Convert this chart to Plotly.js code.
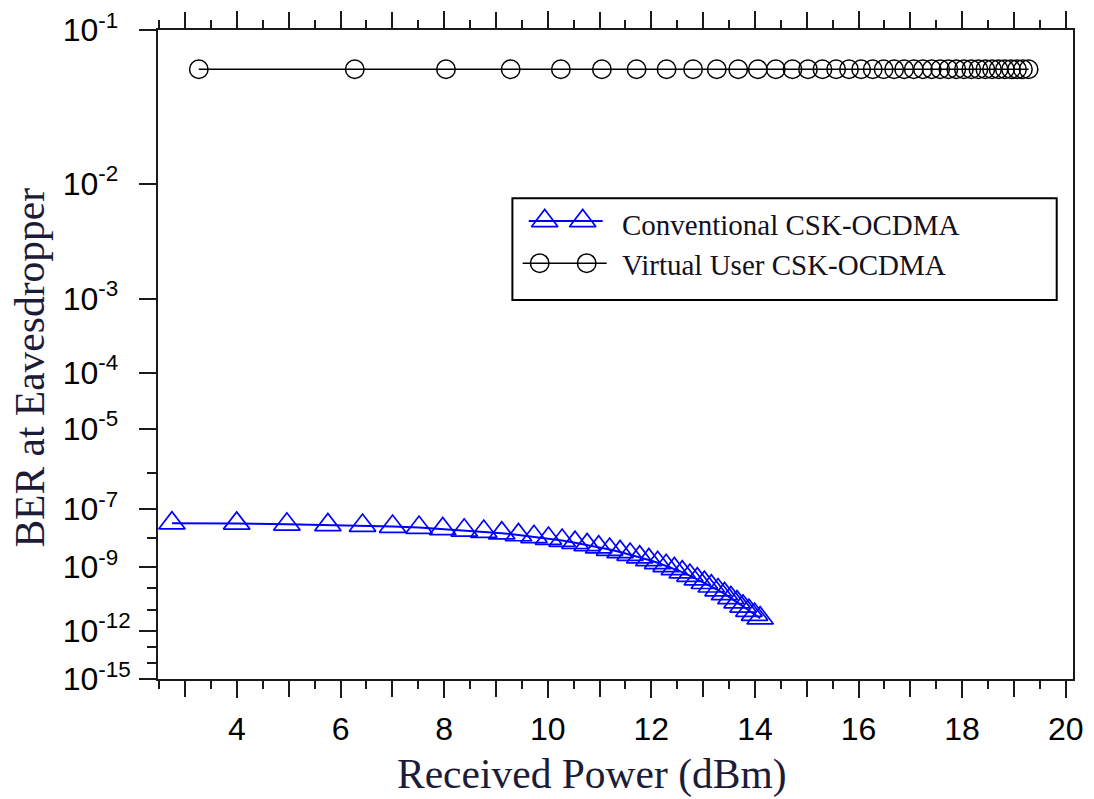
<!DOCTYPE html>
<html>
<head>
<meta charset="utf-8">
<script src="https://cdn.plot.ly/plotly-3.0.1.min.js"></script>
<style>
  html, body { margin: 0; padding: 0; background: #ffffff; }
  #chart { width: 1094px; height: 799px; }
</style>
</head>
<body>
<div id="chart"></div>
<script>
// ---------------- DATA ----------------
// Received power (dBm) and BER at eavesdropper
const xConventional = [2.744, 3.994, 4.963, 5.755, 6.424, 7.004, 7.515, 7.973, 8.387, 8.765,
  9.112, 9.434, 9.734, 10.014, 10.277, 10.526, 10.760, 10.983, 11.195, 11.397,
  11.590, 11.775, 11.952, 12.122, 12.286, 12.444, 12.597, 12.744, 12.887, 13.024,
  13.158, 13.288, 13.413, 13.536, 13.655, 13.770, 13.884, 13.993, 14.101];
const berConventional = [3.27e-8, 3.22e-8, 2.99e-8, 2.85e-8, 2.72e-8, 2.52e-8, 2.33e-8, 2.09e-8, 1.88e-8, 1.71e-8,
  1.51e-8, 1.31e-8, 1.14e-8, 9.9e-9, 8.43e-9, 7.05e-9, 5.89e-9, 4.93e-9, 4.06e-9, 3.33e-9,
  2.70e-9, 2.18e-9, 1.74e-9, 1.38e-9, 1.08e-9, 7.92e-10, 5.64e-10, 3.93e-10, 2.68e-10, 1.83e-10,
  1.26e-10, 8.41e-11, 5.52e-11, 3.58e-11, 2.28e-11, 1.45e-11, 9.16e-12, 5.91e-12, 3.94e-12];

const xVirtual = [3.263, 6.274, 8.035, 9.284, 10.253, 11.045, 11.715, 12.294, 12.806, 13.263,
  13.677, 14.055, 14.403, 14.725, 15.024, 15.304, 15.568, 15.816, 16.051, 16.274,
  16.485, 16.688, 16.881, 17.066, 17.244, 17.414, 17.577, 17.735, 17.888, 18.035,
  18.177, 18.315, 18.449, 18.578, 18.704, 18.826, 18.945, 19.061, 19.174, 19.284];
const berVirtual = [0.0555, 0.0555, 0.0555, 0.0555, 0.0555, 0.0555, 0.0555, 0.0555, 0.0555, 0.0555,
  0.0555, 0.0555, 0.0555, 0.0555, 0.0555, 0.0555, 0.0555, 0.0555, 0.0555, 0.0555,
  0.0555, 0.0555, 0.0555, 0.0555, 0.0555, 0.0555, 0.0555, 0.0555, 0.0555, 0.0555,
  0.0555, 0.0555, 0.0555, 0.0555, 0.0555, 0.0555, 0.0555, 0.0555, 0.0555, 0.0555];

const seriesNames = ['Conventional CSK-OCDMA', 'Virtual User CSK-OCDMA'];

// x tick labels (labelled every 2 dBm, unlabelled long ticks at odd values)
const xLabelValues = [4, 6, 8, 10, 12, 14, 16, 18, 20];
const xLabelTexts = ['4', '6', '8', '10', '12', '14', '16', '18', '20'];
const xOddTickValues = [3, 5, 7, 9, 11, 13, 15, 17, 19];

// y axis: BER decades (exponent n of 10^-n) -- labelled and minor
const yMajorExponents = [1, 2, 3, 4, 5, 7, 9, 12, 15];
const yMinorExponents = [6, 8, 10, 11, 13, 14];

// ---------------- NON-UNIFORM BER SCALE ----------------
// the reference uses a custom compressed BER scale; this table defines the
// scale: exponent n (BER = 10^-n) -> scale coordinate
const SCALE_EXP = [1, 2, 3, 4, 5, 6, 7, 8, 9, 10, 11, 12, 13, 14, 15];
const SCALE_COORD = [649.3, 495.6, 380.6, 306.6, 250.6, 206.6, 170.3, 140.6, 112.3, 90.6, 69.3, 48.3, 31.6, 16.0, 0];

function expToCoord(u) {
  if (u <= SCALE_EXP[0]) return SCALE_COORD[0];
  for (let i = 0; i < SCALE_EXP.length - 1; i++) {
    if (u <= SCALE_EXP[i + 1]) {
      const f = (u - SCALE_EXP[i]) / (SCALE_EXP[i + 1] - SCALE_EXP[i]);
      return SCALE_COORD[i] + f * (SCALE_COORD[i + 1] - SCALE_COORD[i]);
    }
  }
  return SCALE_COORD[SCALE_COORD.length - 1];
}
function berToCoord(b) { return expToCoord(-Math.log10(b)); }

const NB = '\u00A0';
const yTickVals = yMajorExponents.map(expToCoord);
const yTickText = yMajorExponents.map(n => '10<sup>-' + n + (n < 10 ? NB + NB : '') + '</sup>');
const yMinorVals = yMinorExponents.map(expToCoord);

// ---------------- STYLE ----------------
const BLUE = '#0000ff';
const BLACK = '#000000';
const AXIS = '#1a1a1a';
const TITLE_COLOR = '#1c1c38';
const tickFont = { family: 'Liberation Sans, Arial, sans-serif', size: 32, color: '#000000' };
const serif = 'Liberation Serif, Times New Roman, serif';
const X_RANGE = [2.475, 20.141];

const traces = [
  {
    x: xConventional,
    y: berConventional.map(berToCoord),
    customdata: berConventional,
    name: seriesNames[0],
    type: 'scatter',
    mode: 'lines+markers',
    line: { color: BLUE, width: 2 },
    marker: { symbol: 'triangle-up-open', size: 23, color: BLUE, line: { color: BLUE, width: 1.7 } },
    hovertemplate: '%{x:.2f} dBm<br>BER %{customdata:.2e}<extra></extra>',
    showlegend: false
  },
  {
    x: xVirtual,
    y: berVirtual.map(berToCoord),
    customdata: berVirtual,
    name: seriesNames[1],
    type: 'scatter',
    mode: 'lines+markers',
    line: { color: BLACK, width: 1.6 },
    marker: { symbol: 'circle-open', size: 18.5, color: BLACK, line: { color: BLACK, width: 1.5 } },
    hovertemplate: '%{x:.2f} dBm<br>BER %{customdata:.3f}<extra></extra>',
    showlegend: false
  },
  // legend key samples (drawn on a hidden pixel-space overlay axis)
  {
    x: [545, 583], y: [221, 221], xaxis: 'x2', yaxis: 'y2',
    type: 'scatter', mode: 'markers', hoverinfo: 'skip', showlegend: false,
    marker: { symbol: 'triangle-up-open', size: 23, color: BLUE, line: { color: BLUE, width: 1.7 } }
  },
  {
    x: [540, 587], y: [263.3, 263.3], xaxis: 'x2', yaxis: 'y2',
    type: 'scatter', mode: 'markers', hoverinfo: 'skip', showlegend: false,
    marker: { symbol: 'circle-open', size: 18.5, color: BLACK, line: { color: BLACK, width: 1.5 } }
  }
];

const layout = {
  width: 1094,
  height: 799,
  margin: { l: 158, r: 21, t: 30, b: 120 },
  paper_bgcolor: '#ffffff',
  plot_bgcolor: '#ffffff',
  showlegend: false,
  xaxis: {
    range: X_RANGE,
    tickmode: 'array',
    tickvals: xLabelValues,
    ticktext: xLabelTexts,
    ticks: 'outside',
    ticklen: 17,
    tickwidth: 2,
    tickcolor: AXIS,
    showline: true,
    linecolor: AXIS,
    linewidth: 2,
    mirror: 'ticks',
    showgrid: false,
    zeroline: false,
    tickfont: tickFont,
    ticklabelstandoff: 4,
    minor: { tickmode: 'linear', tick0: 2.5, dtick: 0.5, ticks: 'outside', ticklen: 8, tickwidth: 2, tickcolor: AXIS, showgrid: false }
  },
  // overlay axis carrying the long, unlabelled ticks at odd dBm values
  xaxis3: {
    overlaying: 'x',
    anchor: 'y',
    side: 'bottom',
    range: X_RANGE,
    tickmode: 'array',
    tickvals: xOddTickValues,
    showticklabels: false,
    ticks: 'outside',
    ticklen: 17,
    tickwidth: 2,
    tickcolor: AXIS,
    showline: false,
    mirror: 'ticks',
    showgrid: false,
    zeroline: false,
    fixedrange: true
  },
  yaxis: {
    range: [0, 649.3],
    tickmode: 'array',
    tickvals: yTickVals,
    ticktext: yTickText,
    ticks: 'outside',
    ticklen: 17,
    tickwidth: 2,
    tickcolor: AXIS,
    showline: true,
    linecolor: AXIS,
    linewidth: 2,
    mirror: true,
    showgrid: false,
    zeroline: false,
    tickfont: tickFont,
    ticklabelstandoff: 2,
    minor: { tickmode: 'array', tickvals: yMinorVals, ticks: 'outside', ticklen: 9, tickwidth: 2, tickcolor: AXIS, showgrid: false }
  },
  xaxis2: { overlaying: 'x', range: [158.3, 1073.3], visible: false, fixedrange: true },
  yaxis2: { overlaying: 'y', range: [679.3, 30], visible: false, fixedrange: true },
  shapes: [
    // legend frame
    { type: 'rect', xref: 'x2', yref: 'y2', x0: 512.7, x1: 1057, y0: 198.3, y1: 300,
      line: { color: '#000000', width: 2 }, fillcolor: 'rgba(255,255,255,0)', layer: 'above' },
    // legend key lines
    { type: 'line', xref: 'x2', yref: 'y2', x0: 529, x1: 603, y0: 221, y1: 221, line: { color: BLUE, width: 2 } },
    { type: 'line', xref: 'x2', yref: 'y2', x0: 523, x1: 607, y0: 263.3, y1: 263.3, line: { color: BLACK, width: 1.6 } }
  ],
  annotations: [
    { text: seriesNames[0], xref: 'x2', yref: 'y2', x: 620, y: 225, xanchor: 'left', yanchor: 'middle',
      showarrow: false, font: { family: serif, size: 29, color: '#111122' } },
    { text: seriesNames[1], xref: 'x2', yref: 'y2', x: 620, y: 265.5, xanchor: 'left', yanchor: 'middle',
      showarrow: false, font: { family: serif, size: 29, color: '#111122' } },
    // axis titles
    { text: 'Received Power (dBm)', xref: 'paper', yref: 'paper', x: 0.4745, y: -0.1474, xanchor: 'center', yanchor: 'middle',
      showarrow: false, font: { family: serif, size: 41.5, color: TITLE_COLOR } },
    { text: 'BER at Eavesdropper', xref: 'paper', yref: 'paper', x: -0.1402, y: 0.4794, xanchor: 'center', yanchor: 'middle',
      textangle: -90, showarrow: false, font: { family: serif, size: 41.5, color: TITLE_COLOR } }
  ]
};

// the tick-only overlay axis needs a (empty) trace to be drawn
traces.push({ x: [], y: [], xaxis: 'x3', yaxis: 'y', type: 'scatter', mode: 'markers', hoverinfo: 'skip', showlegend: false });

Plotly.newPlot('chart', traces, layout, { displayModeBar: false, staticPlot: true });
</script>
</body>
</html>
